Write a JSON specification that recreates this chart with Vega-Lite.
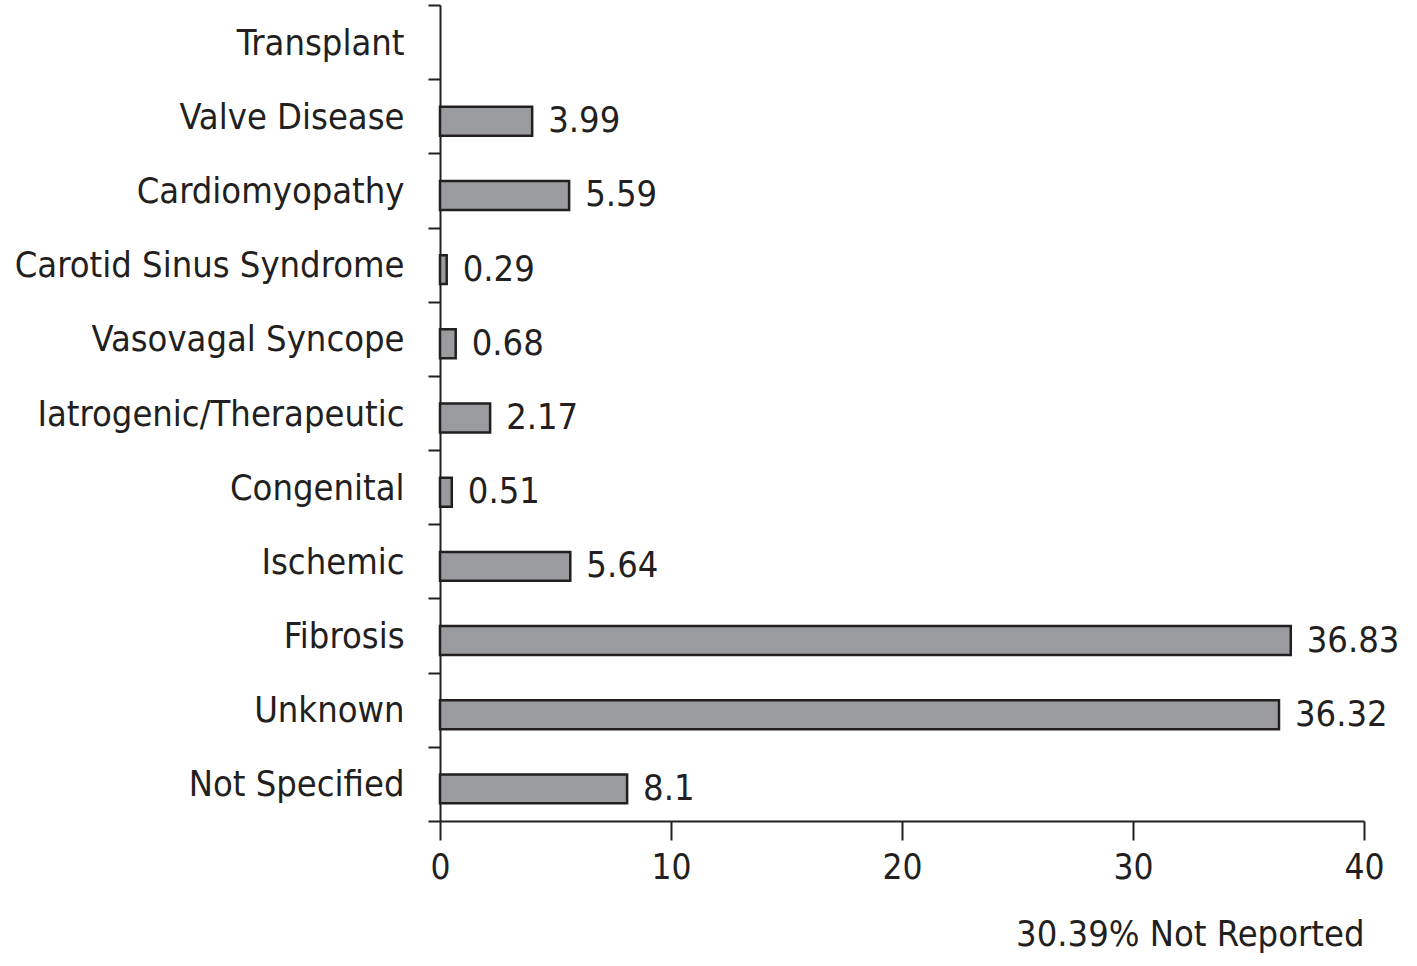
{
  "$schema": "https://vega.github.io/schema/vega-lite/v6.json",
  "width": 924,
  "height": 816,
  "autosize": {"type": "none"},
  "padding": {"left": 440, "top": 5, "right": 53, "bottom": 145},
  "background": "white",
  "config": {
    "view": {"stroke": null},
    "font": "DejaVu Sans Condensed"
  },
  "data": {
    "values": [
      {"cause": "Transplant", "pct": null},
      {"cause": "Valve Disease", "pct": 3.99},
      {"cause": "Cardiomyopathy", "pct": 5.59},
      {"cause": "Carotid Sinus Syndrome", "pct": 0.29},
      {"cause": "Vasovagal Syncope", "pct": 0.68},
      {"cause": "Iatrogenic/Therapeutic", "pct": 2.17},
      {"cause": "Congenital", "pct": 0.51},
      {"cause": "Ischemic", "pct": 5.64},
      {"cause": "Fibrosis", "pct": 36.83},
      {"cause": "Unknown", "pct": 36.32},
      {"cause": "Not Specified", "pct": 8.1}
    ]
  },
  "encoding": {
    "y": {
      "field": "cause",
      "type": "nominal",
      "scale": {
        "domain": ["Transplant", "Valve Disease", "Cardiomyopathy", "Carotid Sinus Syndrome", "Vasovagal Syncope", "Iatrogenic/Therapeutic", "Congenital", "Ischemic", "Fibrosis", "Unknown", "Not Specified"],
        "paddingInner": 0,
        "paddingOuter": 0
      },
      "axis": {
        "title": null,
        "domainColor": "#231f20",
        "domainWidth": 2,
        "tickColor": "#231f20",
        "tickWidth": 2,
        "tickSize": 12,
        "tickBand": "extent",
        "labelFont": "DejaVu Sans Condensed",
        "labelFontSize": 36,
        "labelColor": "#231f20",
        "labelPadding": 24,
        "labelOffset": 1,
        "labelLimit": 500
      }
    },
    "x": {
      "field": "pct",
      "type": "quantitative",
      "scale": {"domain": [0, 40], "nice": false},
      "axis": {
        "values": [0, 10, 20, 30, 40],
        "grid": false,
        "title": "30.39% Not Reported",
        "titleAnchor": "end",
        "titleFont": "DejaVu Sans Condensed",
        "titleFontWeight": "normal",
        "titleFontSize": 36,
        "titleColor": "#231f20",
        "titlePadding": 32,
        "domainColor": "#231f20",
        "domainWidth": 2,
        "tickColor": "#231f20",
        "tickWidth": 2,
        "tickSize": 19,
        "labelFont": "DejaVu Sans Condensed",
        "labelFontSize": 35,
        "labelColor": "#231f20",
        "labelPadding": 10,
        "labelFlush": false
      }
    }
  },
  "layer": [
    {
      "mark": {"type": "bar", "fill": "#9a9b9e", "stroke": "#231f20", "strokeWidth": 2.5, "height": {"band": 0.39}, "yOffset": 5},
      "encoding": {}
    },
    {
      "mark": {"type": "text", "align": "left", "baseline": "middle", "dx": 16, "dy": 5, "fontSize": 36, "font": "DejaVu Sans Condensed", "fill": "#231f20"},
      "encoding": {"text": {"field": "pct", "type": "quantitative"}}
    }
  ]
}
